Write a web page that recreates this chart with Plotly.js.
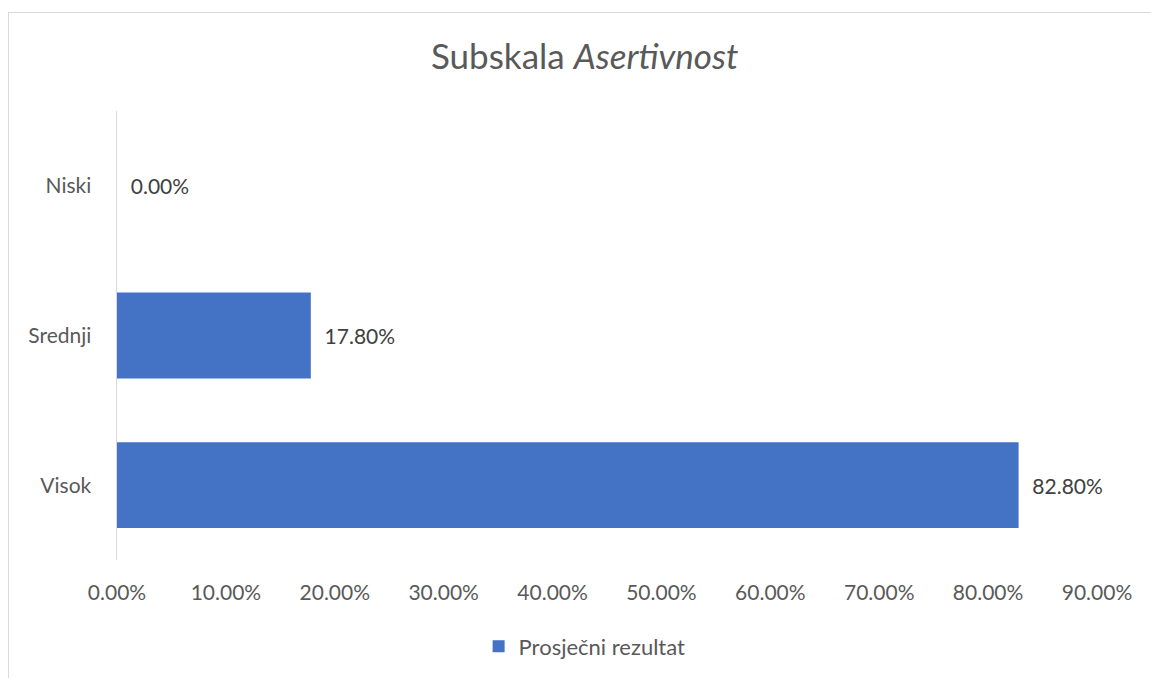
<!DOCTYPE html>
<html>
<head>
<meta charset="utf-8">
<script src="https://cdn.plot.ly/plotly-3.0.1.min.js"></script>
<style>
  html, body { margin: 0; padding: 0; background: #ffffff; }
  #wrap { position: relative; width: 1151px; height: 678px; overflow: hidden; }
  #chart { position: absolute; left: 0; top: 0; width: 1151px; height: 678px; }
  #frame { position: absolute; left: 8px; top: 12px; width: 1200px; height: 700px;
           border-left: 1.5px solid #d9d9d9; border-top: 1.5px solid #d9d9d9; pointer-events: none; }
</style>
</head>
<body>
<div id="wrap">
  <div id="chart"></div>
  <div id="frame"></div>
</div>
<script>
const categories = ['Niski', 'Srednji', 'Visok'];
const values = [0.0, 0.178, 0.828];
const seriesName = 'Prosječni rezultat';
const tickValues = [0, 0.1, 0.2, 0.3, 0.4, 0.5, 0.6, 0.7, 0.8, 0.9];

const FONT = 'Lato, "Open Sans", "Noto Sans", sans-serif';

const trace = {
  type: 'bar',
  orientation: 'h',
  name: seriesName,
  y: categories,
  x: values,
  marker: { color: '#4472C4' },
  texttemplate: '\u00a0\u00a0%{x:.2%}',
  textposition: 'outside',
  cliponaxis: false,
  textfont: { family: FONT, size: 21, color: '#404040' },
  hoverinfo: 'none',
  showlegend: true
};

const layout = {
  width: 1151,
  height: 678,
  margin: { l: 117, r: 54, t: 111, b: 117 },
  paper_bgcolor: '#ffffff',
  plot_bgcolor: '#ffffff',
  font: { family: FONT, color: '#595959', size: 21 },
  title: {
    text: 'Subskala <i>Asertivnost</i>',
    font: { family: FONT, size: 35, color: '#595959' },
    x: 0.508, xref: 'container', xanchor: 'center',
    y: 0.916, yref: 'container', yanchor: 'middle'
  },
  bargap: 0.427,
  xaxis: {
    range: [0, 0.9],
    tickvals: tickValues,
    tickformat: '.2%',
    showgrid: false,
    zeroline: false,
    showline: false,
    ticks: '',
    ticklabelstandoff: 18,
    tickfont: { family: FONT, size: 21, color: '#595959' },
    fixedrange: true
  },
  yaxis: {
    type: 'category',
    autorange: 'reversed',
    showgrid: false,
    zeroline: false,
    showline: true,
    linecolor: '#d9d9d9',
    linewidth: 1.5,
    ticks: '',
    ticklabelstandoff: 20,
    tickfont: { family: FONT, size: 21, color: '#595959' },
    fixedrange: true
  },
  showlegend: true,
  legend: {
    orientation: 'h',
    x: 0.369, xanchor: 'left',
    y: -0.19, yanchor: 'middle',
    font: { family: FONT, size: 22, color: '#595959' },
    bgcolor: 'rgba(0,0,0,0)'
  }
};

Plotly.newPlot('chart', [trace], layout, { displayModeBar: false, staticPlot: true });
</script>
</body>
</html>
